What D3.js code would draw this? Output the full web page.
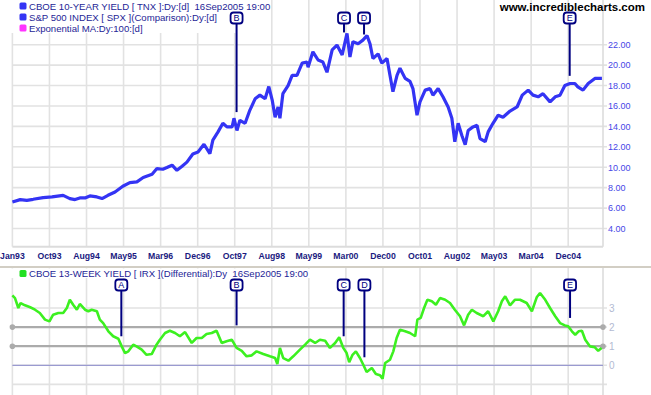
<!DOCTYPE html>
<html>
<head>
<meta charset="utf-8">
<script src="https://cdn.jsdelivr.net/npm/d3@7"></script>
<style>
body { margin: 0; background: #fff; }
svg { display: block; font-family: "Liberation Sans", Arial, sans-serif; }
</style>
</head>
<body>
<div id="wrapper"></div>
<script>
// date labels along the bottom of the price panel, one per grid column
const dateLabels = ["Jan93","Oct93","Aug94","May95","Mar96","Dec96","Oct97","Aug98",
    "May99","Mar00","Dec00","Oct01","Aug02","May03","Mar04","Dec04"];

const topTicks = [4, 6, 8, 10, 12, 14, 16, 18, 20, 22];
const bottomTicks = [0, 1, 2, 3];
const bottomGrid = [-1, 0, 1, 2, 3];
const trendLevels = [1, 2];

const topLegend = [
    {text: "CBOE 10-YEAR YIELD [ TNX ]:Dy:[d]  16Sep2005 19:00", color: "#3434f4"},
    {text: "S&P 500 INDEX [ SPX ](Comparison):Dy:[d]", color: "#3434f4"},
    {text: "Exponential MA:Dy:100:[d]", color: "#ff33ff"}
];
const bottomLegend = {text: "CBOE 13-WEEK YIELD [ IRX ](Differential):Dy  16Sep2005 19:00", color: "#22e022"};

// [position in date columns, value]
const spx = [[0.00,6.6],[0.21,6.83],[0.39,6.76],[0.56,6.86],[0.83,7.03],[1.07,7.09],[1.37,7.25],
    [1.55,6.93],[1.69,6.83],[1.82,6.99],[1.96,6.99],[2.09,7.19],[2.28,7.09],[2.42,6.93],[2.58,7.25],
    [2.77,7.58],[2.98,8.14],[3.17,8.5],[3.36,8.56],[3.53,8.99],[3.77,9.31],[3.90,9.87],[4.06,9.8],
    [4.17,9.97],[4.31,10.2],[4.44,9.7],[4.58,10.1],[4.71,10.5],[4.87,11.3],[5.01,11.5],[5.17,12.25],
    [5.33,11.34],[5.41,12.65],[5.55,13.46],[5.68,14.3],[5.79,13.95],[5.93,13.95],[5.98,14.8],
    [6.06,13.6],[6.14,14.6],[6.28,14.3],[6.41,15.6],[6.55,16.7],[6.68,17.06],[6.82,16.7],[6.92,17.9],
    [7.01,16.6],[7.09,14.9],[7.17,15.9],[7.22,14.8],[7.30,17.2],[7.44,18.0],[7.55,19.0],[7.68,19.0],
    [7.82,20.2],[7.95,20.3],[7.98,19.8],[8.11,21.3],[8.25,20.5],[8.38,20.3],[8.49,19.3],[8.63,21.5],
    [8.76,21.96],[8.90,21.0],[9.03,23.1],[9.11,20.8],[9.19,22.3],[9.33,22.1],[9.46,22.45],[9.57,22.9],
    [9.65,22.1],[9.73,20.65],[9.87,21.1],[9.97,20.2],[10.11,20.65],[10.19,19.0],[10.27,17.4],
    [10.38,19.0],[10.46,19.7],[10.60,18.7],[10.73,18.4],[10.81,17.7],[10.92,15.1],[11.00,16.4],
    [11.14,17.55],[11.27,17.7],[11.35,17.06],[11.49,17.7],[11.62,16.9],[11.76,15.9],[11.86,14.8],
    [11.94,12.5],[12.03,14.3],[12.13,13.1],[12.22,12.2],[12.30,13.6],[12.43,13.95],[12.54,14.1],
    [12.62,12.8],[12.76,12.5],[12.84,13.46],[12.97,14.3],[13.11,15.1],[13.24,14.9],[13.43,15.5],
    [13.62,15.9],[13.76,17.06],[13.92,17.55],[14.05,17.06],[14.19,16.9],[14.32,17.2],[14.51,16.4],
    [14.65,16.9],[14.78,17.06],[14.91,18.0],[15.05,18.2],[15.18,18.2],[15.26,17.87],[15.40,17.55],
    [15.54,18.2],[15.72,18.7],[15.91,18.7]];

const irx = [[0,3.66],[0.07,3.52],[0.16,3.0],[0.22,3.26],[0.34,3.14],[0.48,3.04],[0.61,2.91],
    [0.74,2.74],[0.88,2.39],[1.00,2.30],[1.10,2.65],[1.24,2.74],[1.37,2.74],[1.47,3.0],[1.55,3.43],
    [1.64,3.17],[1.74,2.91],[1.82,3.21],[1.96,2.91],[2.05,2.83],[2.14,2.91],[2.28,2.83],[2.36,2.39],
    [2.45,2.21],[2.59,1.78],[2.72,1.52],[2.86,1.39],[2.95,0.99],[3.04,0.64],[3.13,0.73],[3.26,1.08],
    [3.35,0.99],[3.49,0.82],[3.62,0.55],[3.76,0.59],[3.89,1.08],[3.98,1.34],[4.12,1.69],[4.25,1.81],
    [4.39,1.69],[4.52,1.52],[4.66,1.74],[4.84,1.17],[4.97,1.43],[5.11,1.43],[5.24,1.64],[5.38,1.69],
    [5.51,1.81],[5.65,1.17],[5.78,1.26],[5.92,1.34],[6.05,0.91],[6.19,0.76],[6.32,0.47],[6.46,0.52],
    [6.59,0.73],[6.77,0.59],[6.95,0.47],[7.09,0.38],[7.15,0.07],[7.22,0.91],[7.31,0.38],[7.45,0.24],
    [7.58,0.47],[7.76,0.82],[7.90,1.08],[8.03,1.34],[8.17,1.17],[8.30,1.34],[8.44,1.29],[8.57,0.91],
    [8.71,1.17],[8.82,1.47],[8.93,0.91],[9.02,0.64],[9.09,0.16],[9.18,0.55],[9.27,0.73],[9.38,0.38],
    [9.47,0.03],[9.56,-0.35],[9.70,-0.14],[9.81,-0.46],[9.92,-0.52],[9.99,-0.7],[10.06,0.12],
    [10.19,0.29],[10.28,0.73],[10.37,1.43],[10.46,1.86],[10.60,1.78],[10.73,1.69],[10.87,1.52],
    [10.93,2.39],[11.02,2.48],[11.11,3.0],[11.20,3.43],[11.32,3.35],[11.43,3.17],[11.54,3.52],
    [11.68,3.43],[11.81,3.26],[11.94,2.91],[12.08,2.57],[12.19,2.09],[12.30,2.65],[12.40,2.91],
    [12.53,2.74],[12.71,2.57],[12.84,2.83],[12.98,2.30],[13.11,2.83],[13.21,3.35],[13.30,3.61],
    [13.43,3.14],[13.56,3.43],[13.70,3.43],[13.88,3.26],[14.02,2.83],[14.15,3.56],[14.24,3.79],
    [14.38,3.43],[14.51,3.0],[14.65,2.57],[14.78,2.21],[14.91,2.09],[15.00,2.04],[15.10,1.78],
    [15.19,1.6],[15.28,1.78],[15.37,1.81],[15.46,1.34],[15.59,0.99],[15.72,0.94],[15.81,0.76],
    [15.90,0.91]];

// annotation flags: label, date column, value the pointer ends on
const topMarkers = [
    {label: "B", t: 6.05, v: 15.4},
    {label: "C", t: 8.95, v: 23.2},
    {label: "D", t: 9.49, v: 23.0},
    {label: "E", t: 15.04, v: 18.95}
];
const bottomMarkers = [
    {label: "A", t: 2.94, v: 1.52},
    {label: "B", t: 6.05, v: 2.09},
    {label: "C", t: 8.94, v: 1.52},
    {label: "D", t: 9.50, v: 0.42},
    {label: "E", t: 15.05, v: 2.48}
];

function build() {
    var dim = {width: 651, height: 395, left: 12.4, right: 603,
        topY0: 0, topY1: 246.7, botY0: 268, botY1: 395};

    const svg = d3.select("#wrapper").append("svg")
        .attr("width", dim.width)
        .attr("height", dim.height);

    const x = d3.scaleLinear().domain([0, 15]).range([dim.left, 568.2]);
    const yTop = d3.scaleLinear().domain([4, 22]).range([228.5, 44.7]);
    const yBot = d3.scaleLinear().domain([0, 3]).range([365.3, 308]);

    const gridColor = "#e2e2e2";

    // vertical grid, both panels
    const cols = d3.range(dateLabels.length);
    svg.append("g").selectAll("line").data(cols).enter().append("line")
        .attr("x1", d => x(d)).attr("x2", d => x(d))
        .attr("y1", dim.topY0).attr("y2", dim.topY1)
        .attr("stroke", gridColor).attr("stroke-width", 1.6);
    svg.append("g").selectAll("line").data(cols).enter().append("line")
        .attr("x1", d => x(d)).attr("x2", d => x(d))
        .attr("y1", dim.botY0).attr("y2", dim.botY1)
        .attr("stroke", gridColor).attr("stroke-width", 1.6);

    // horizontal grid, price panel
    svg.append("g").selectAll("line").data(topTicks).enter().append("line")
        .attr("x1", dim.left).attr("x2", dim.right + 4)
        .attr("y1", d => yTop(d)).attr("y2", d => yTop(d))
        .attr("stroke", gridColor).attr("stroke-width", 1.6);

    // horizontal grid, yield panel
    svg.append("g").selectAll("line").data(bottomGrid).enter().append("line")
        .attr("x1", dim.left).attr("x2", dim.right + 4)
        .attr("y1", d => yBot(d)).attr("y2", d => yBot(d))
        .attr("stroke", gridColor).attr("stroke-width", 1.6);

    // panel borders
    svg.append("line")
        .attr("x1", dim.left).attr("x2", dim.right)
        .attr("y1", dim.topY1).attr("y2", dim.topY1)
        .attr("stroke", "#dcdcdc").attr("stroke-width", 2);
    svg.append("line")
        .attr("x1", dim.right).attr("x2", dim.right)
        .attr("y1", dim.topY0).attr("y2", dim.topY1)
        .attr("stroke", "#dcdcdc").attr("stroke-width", 1.6);
    svg.append("line")
        .attr("x1", dim.right).attr("x2", dim.right)
        .attr("y1", dim.botY0).attr("y2", dim.botY1)
        .attr("stroke", "#dcdcdc").attr("stroke-width", 1.6);
    svg.append("line")
        .attr("x1", 0).attr("x2", dim.width)
        .attr("y1", 267).attr("y2", 267)
        .attr("stroke", "#d2cec4").attr("stroke-width", 2);

    // zero line and the two trend lines
    svg.append("line")
        .attr("x1", dim.left).attr("x2", dim.right)
        .attr("y1", yBot(0)).attr("y2", yBot(0))
        .attr("stroke", "#9a9ad0").attr("stroke-width", 1.2);
    const trend = svg.append("g").selectAll("g").data(trendLevels).enter().append("g");
    trend.append("line")
        .attr("x1", dim.left).attr("x2", dim.right)
        .attr("y1", d => yBot(d)).attr("y2", d => yBot(d))
        .attr("stroke", "#ababab").attr("stroke-width", 2.2);
    trend.append("circle").attr("cx", dim.left).attr("cy", d => yBot(d)).attr("r", 2.8).attr("fill", "#ababab");
    trend.append("circle").attr("cx", dim.right).attr("cy", d => yBot(d)).attr("r", 2.8).attr("fill", "#ababab");

    // legend backgrounds
    svg.append("rect").attr("x", 0).attr("y", 0).attr("width", 270).attr("height", 33).attr("fill", "#fff");
    svg.append("rect").attr("x", 0).attr("y", 268.5).attr("width", 318).attr("height", 9.5).attr("fill", "#fff");

    // series
    const lineTop = d3.line().x(d => x(d[0])).y(d => yTop(d[1]));
    const lineBot = d3.line().x(d => x(d[0])).y(d => yBot(d[1]));
    svg.append("path").datum(spx).attr("d", lineTop)
        .attr("fill", "none").attr("stroke", "#3434f4").attr("stroke-width", 3.2)
        .attr("stroke-linejoin", "bevel");
    svg.append("path").datum(irx).attr("d", lineBot)
        .attr("fill", "none").attr("stroke", "#3cf020").attr("stroke-width", 2.6)
        .attr("stroke-linejoin", "bevel");

    // flags
    function drawMarkers(list, yScale, boxTop) {
        const g = svg.append("g").selectAll("g").data(list).enter().append("g");
        g.append("line")
            .attr("x1", d => x(d.t)).attr("x2", d => x(d.t))
            .attr("y1", boxTop + 11).attr("y2", d => yScale(d.v))
            .attr("stroke", "#000080").attr("stroke-width", 2);
        g.append("rect")
            .attr("x", d => x(d.t) - 6).attr("y", boxTop)
            .attr("width", 12).attr("height", 11).attr("rx", 3)
            .attr("fill", "#fff").attr("stroke", "#000080").attr("stroke-width", 1.8);
        g.append("text")
            .attr("x", d => x(d.t)).attr("y", boxTop + 8.8)
            .attr("text-anchor", "middle")
            .style("font-size", "9px").style("fill", "#000080")
            .text(d => d.label);
    }
    drawMarkers(topMarkers, yTop, 12.5);
    drawMarkers(bottomMarkers, yBot, 279.5);

    // legends
    const leg = svg.append("g").selectAll("g").data(topLegend).enter().append("g")
        .attr("transform", (d, i) => `translate(0,${i * 11})`);
    leg.append("rect").attr("x", 19.5).attr("y", 2.5).attr("width", 7).attr("height", 7)
        .attr("rx", 1.5).attr("fill", d => d.color);
    leg.append("text").attr("x", 29).attr("y", 9.8)
        .style("font-size", "9.6px").style("fill", "#1e1e96")
        .style("white-space", "pre")
        .text(d => d.text);

    svg.append("rect").attr("x", 19.5).attr("y", 270).attr("width", 7).attr("height", 7)
        .attr("rx", 1.5).attr("fill", bottomLegend.color);
    svg.append("text").attr("x", 29).attr("y", 277.3)
        .style("font-size", "9.6px").style("fill", "#1e1e96")
        .style("white-space", "pre")
        .text(bottomLegend.text);

    svg.append("text").attr("x", 645).attr("y", 10.8)
        .attr("text-anchor", "end")
        .style("font-size", "11.5px").style("font-weight", "bold").style("fill", "#000")
        .text("www.incrediblecharts.com");

    // axis labels
    svg.append("g").selectAll("text").data(topTicks).enter().append("text")
        .attr("x", 608).attr("y", d => yTop(d) + 3.3)
        .style("font-size", "9px").style("fill", "#4646e6")
        .text(d => d3.format(".2f")(d));
    svg.append("g").selectAll("text").data(bottomTicks).enter().append("text")
        .attr("x", 609).attr("y", d => yBot(d) + 3.6)
        .style("font-size", "10px").style("fill", "#b2bad2")
        .text(d => d);
    svg.append("g").selectAll("text").data(dateLabels).enter().append("text")
        .attr("x", (d, i) => x(i)).attr("y", 259)
        .attr("text-anchor", "middle")
        .style("font-size", "8.7px").style("font-weight", "bold").style("fill", "#1a1a80")
        .text(d => d);
}

build();
</script>
</body>
</html>
